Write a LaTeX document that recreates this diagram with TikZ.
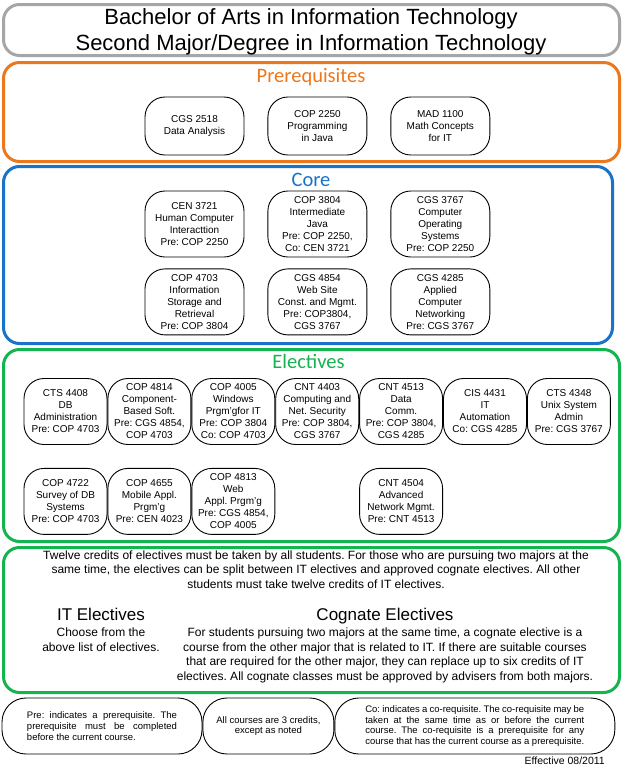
\documentclass[tikz,border=0pt]{standalone}
\usepackage{fontspec}
\setmainfont{Liberation Sans}
\newfontfamily\headfont{Carlito}
\usetikzlibrary{positioning}
\frenchspacing

\definecolor{titlegrey}{RGB}{166,166,166}
\definecolor{preorange}{RGB}{236,120,30}
\definecolor{coreblue}{RGB}{25,115,200}
\definecolor{electgreen}{RGB}{20,180,80}

\tikzset{
    sectionbox/.style = {draw, line width=3pt, rounded corners=16pt},
    course/.style     = {draw, line width=0.9pt, rounded corners=20pt,
                         minimum width=99pt, minimum height=66pt, inner sep=1pt,
                         align=center, font=\fontsize{10}{12}\selectfont},
    elective/.style   = {course, minimum width=83pt},
    sectionhead/.style= {anchor=base, font=\headfont\fontsize{20.5}{24}\selectfont},
    subhead/.style    = {anchor=base, font=\fontsize{17}{20}\selectfont},
    bodytext/.style   = {anchor=north, inner sep=0pt, align=center,
                         font=\fontsize{12}{14.5}\selectfont},
    notebox/.style    = {draw, line width=0.9pt, rounded corners=24pt,
                         minimum height=56pt, font=\fontsize{9.5}{10.7}\selectfont}
}

\begin{document}
\begin{tikzpicture}[x=1pt, y=-1pt]

            \path[use as bounding box, fill=white] (0,0) rectangle (623,769);

            \node[sectionbox, draw=titlegrey, minimum width=616pt, minimum height=51pt] (titlebox) at (311.5,30) {};
            \node[sectionbox, draw=preorange, minimum width=616pt, minimum height=99pt] (prebox) at (311.5,112) {};
            \node[sectionbox, draw=coreblue, minimum width=609pt, minimum height=177pt] (corebox) at (308,255) {};
            \node[sectionbox, draw=electgreen, minimum width=616pt, minimum height=192pt] (electbox) at (311.5,445.5) {};
            \node[sectionbox, draw=electgreen, minimum width=616pt, minimum height=145pt] (notesbox) at (311.5,620) {};

            \node[anchor=north, inner sep=0pt, align=center, font=\fontsize{22}{26}\selectfont] (title) at (311,8.5)
                {Bachelor of Arts in Information Technology\\Second Major/Degree in Information Technology};

            \node[sectionhead, text=preorange] (prehead) at (311,82) {Prerequisites};
            \node[course, minimum height=58pt] (cgs2518) at (194.5,126) {CGS 2518\\Data Analysis};
            \node[course, minimum height=58pt] (cop2250) [right = 23pt of cgs2518] {COP 2250\\Programming\\in Java};
            \node[course, minimum height=58pt] (mad1100) [right = 23pt of cop2250] {MAD 1100\\Math Concepts\\for IT};

            \node[sectionhead, text=coreblue] (corehead) at (311,186) {Core};
            \node[course] (cen3721) at (194.5,224) {CEN 3721\\Human Computer\\Interacttion\\Pre: COP 2250};
            \node[course] (cop3804) [right = 23pt of cen3721] {COP 3804\\Intermediate\\Java\\Pre: COP 2250,\\Co: CEN 3721};
            \node[course] (cgs3767) [right = 23pt of cop3804] {CGS 3767\\Computer\\Operating\\Systems\\Pre: COP 2250};
            \node[course] (cop4703) [below = 11pt of cen3721] {COP 4703\\Information\\Storage and\\Retrieval\\Pre: COP 3804};
            \node[course] (cgs4854) [right = 23pt of cop4703] {CGS 4854\\Web Site\\Const. and Mgmt.\\Pre: COP3804,\\CGS 3767};
            \node[course] (cgs4285) [right = 23pt of cgs4854] {CGS 4285\\Applied\\Computer\\Networking\\Pre: CGS 3767};

            \node[sectionhead, text=electgreen] (electhead) at (308.5,368) {Electives};
            \node[elective] (cts4408) at (65.5,411.5) {CTS 4408\\DB\\Administration\\Pre: COP 4703};
            \node[elective] (cop4814) [right = 0pt of cts4408] {COP 4814\\Component-\\Based Soft.\\Pre: CGS 4854,\\COP 4703};
            \node[elective] (cop4005) [right = 0pt of cop4814] {COP 4005\\Windows\\Prgm'gfor IT\\Pre: COP 3804\\Co: COP 4703};
            \node[elective] (cnt4403) [right = 0pt of cop4005] {CNT 4403\\Computing and\\Net. Security\\Pre: COP 3804,\\CGS 3767};
            \node[elective] (cnt4513) [right = 0pt of cnt4403] {CNT 4513\\Data\\Comm.\\Pre: COP 3804,\\CGS 4285};
            \node[elective] (cis4431) [right = 0pt of cnt4513] {CIS 4431\\IT\\Automation\\Co: CGS 4285};
            \node[elective] (cts4348) [right = 0pt of cis4431] {CTS 4348\\Unix System\\Admin\\Pre: CGS 3767};
            \node[elective] (cop4722) [below = 23pt of cts4408] {COP 4722\\Survey of DB\\Systems\\Pre: COP 4703};
            \node[elective] (cop4655) [right = 0pt of cop4722] {COP 4655\\Mobile Appl.\\Prgm'g\\Pre: CEN 4023};
            \node[elective] (cop4813) [right = 0pt of cop4655] {COP 4813\\Web\\Appl. Prgm'g\\Pre: CGS 4854,\\COP 4005};
            \node[elective] (cnt4504) [below = 23pt of cnt4513] {CNT 4504\\Advanced\\Network Mgmt.\\Pre: CNT 4513};

            \node[bodytext] (twelve) at (316,550.5)
                {Twelve credits of electives must be taken by all students. For those who are pursuing two majors at the\\
                 same time, the electives can be split between IT electives and approved cognate electives. All other\\
                 students must take twelve credits of IT electives.};
            \node[subhead] (ithead) at (101,620.5) {IT Electives};
            \node[bodytext] (itchoose) at (101,628) {Choose from the\\above list of electives.};
            \node[subhead] (coghead) at (385,620.5) {Cognate Electives};
            \node[bodytext] (cogtext) at (385,628)
                {For students pursuing two majors at the same time, a cognate elective is a\\
                 course from the other major that is related to IT. If there are suitable courses\\
                 that are required for the other major, they can replace up to six credits of IT\\
                 electives. All cognate classes must be approved by advisers from both majors.};

            \node[notebox, minimum width=200pt, text width=150pt, align=justify] (prenote) at (102,726)
                {Pre: indicates a prerequisite. The\linebreak prerequisite must be completed\linebreak before the current course.};
            \node[notebox, minimum width=131pt, align=center] (creditnote) [right = 0pt of prenote]
                {All courses are 3 credits,\\except as noted};
            \node[notebox, minimum width=280pt, text width=219pt, align=justify] (conote) [right = 0pt of creditnote]
                {Co: indicates a co-requisite. The co-requisite may be\linebreak taken at the same time as or before the current\linebreak course. The co-requisite is a prerequisite for any\linebreak course that has the current course as a prerequisite.};

            \node[anchor=base east, inner sep=0pt, font=\fontsize{10.5}{12}\selectfont] (effective) at (605,764) {Effective 08/2011};

        \end{tikzpicture}
\end{document}
